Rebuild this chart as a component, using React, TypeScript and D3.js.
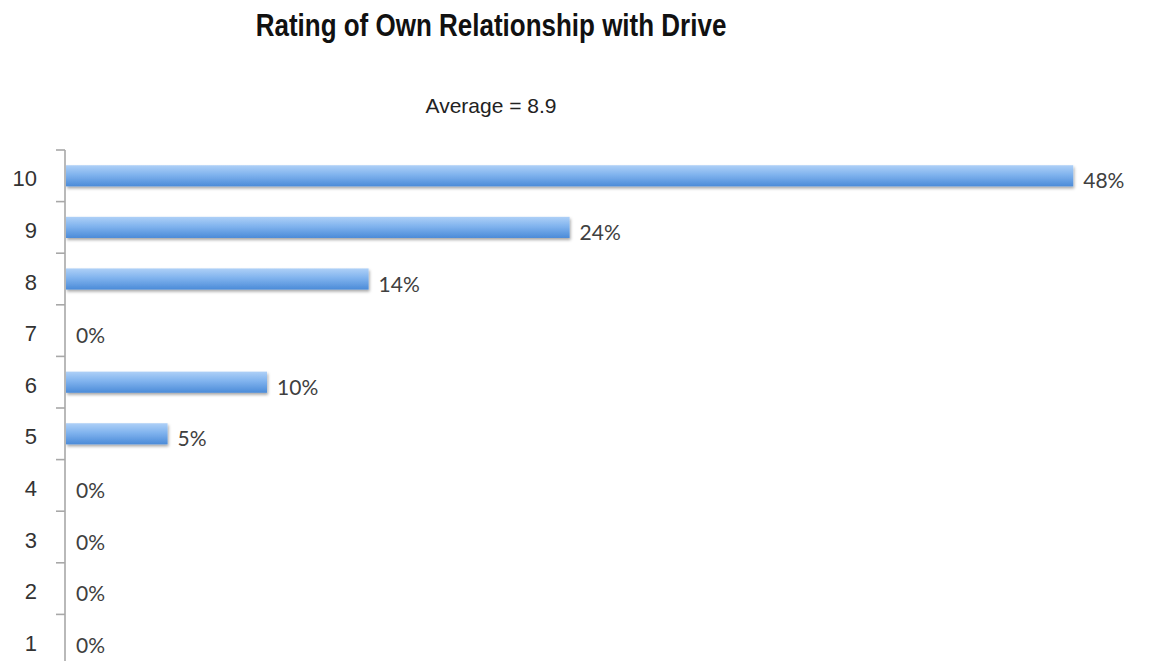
import React from "react";
import * as d3 from "d3";

const TITLE = "Rating of Own Relationship with Drive";
const SUBTITLE = "Average = 8.9";
const ratings = ["10", "9", "8", "7", "6", "5", "4", "3", "2", "1"];
const shares = [0.476, 0.238, 0.143, 0, 0.095, 0.048, 0, 0, 0, 0];
const shareLabels = ["48%", "24%", "14%", "0%", "10%", "5%", "0%", "0%", "0%", "0%"];

const W = 1149;
const H = 661;

export default function App() {
  const x = d3.scaleLinear().domain([0, 0.5]).range([66, 1124]);
  const y = d3.scaleBand<string>().domain(ratings).range([150, 666]).padding(0);
  const bh = y.bandwidth() * 0.41;
  const boundaries = d3.range(ratings.length + 1).map((i) => 150 + i * y.step());

  return (
    <svg
      width={W}
      height={H}
      style={{ position: "absolute", left: 0, top: 0, background: "#fff" }}
    >
      <defs>
        <linearGradient id="barGrad" x1="0" y1="0" x2="0" y2="1">
          <stop offset="0" stopColor="#aed0f7" />
          <stop offset="0.45" stopColor="#80b3ee" />
          <stop offset="1" stopColor="#4b8bd8" />
        </linearGradient>
        <filter id="shadow" x="-5%" y="-30%" width="110%" height="180%">
          <feDropShadow dx="1" dy="2" stdDeviation="1.6" floodColor="#000" floodOpacity="0.35" />
        </filter>
      </defs>
      <rect x={0} y={0} width={W} height={H} fill="#fff" />
      <g transform="translate(491,36) scale(1,1.18)">
        <text
          x={0}
          y={0}
          textAnchor="middle"
          fontFamily="'Liberation Sans', Arial, sans-serif"
          fontWeight="bold"
          fontSize={26}
          fill="#111"
        >
          {TITLE}
        </text>
      </g>
      <text
        x={491}
        y={113}
        textAnchor="middle"
        fontFamily="'Liberation Sans', Arial, sans-serif"
        fontSize={21}
        fill="#222"
      >
        {SUBTITLE}
      </text>

      {/* bars */}
      {ratings.map((r, i) =>
        shares[i] > 0 ? (
          <rect
            key={"b" + r}
            x={x(0)}
            y={(y(r) as number) + y.bandwidth() / 2 - bh / 2}
            width={x(shares[i]) - x(0)}
            height={bh}
            fill="url(#barGrad)"
            filter="url(#shadow)"
          />
        ) : null
      )}

      {/* axis */}
      <line x1={65} x2={65} y1={150} y2={H} stroke="#a8a8a8" strokeWidth={1.6} />
      {boundaries.map((b, i) => (
        <line key={"t" + i} x1={56} x2={65} y1={b} y2={b} stroke="#a8a8a8" strokeWidth={1.6} />
      ))}
      {ratings.map((r) => (
        <text
          key={"l" + r}
          x={37}
          y={(y(r) as number) + y.bandwidth() / 2 + 3}
          textAnchor="end"
          dominantBaseline="central"
          fontFamily="'Liberation Sans', Arial, sans-serif"
          fontSize={22}
          fill="#333"
        >
          {r}
        </text>
      ))}

      {/* value labels */}
      {ratings.map((r, i) => (
        <text
          key={"v" + r}
          x={x(shares[i]) + 10}
          y={(y(r) as number) + y.bandwidth() / 2 + 4}
          dominantBaseline="central"
          fontFamily="Lato, 'Open Sans', sans-serif"
          fontSize={21}
          fill="#404040"
        >
          {shareLabels[i]}
        </text>
      ))}
    </svg>
  );
}
